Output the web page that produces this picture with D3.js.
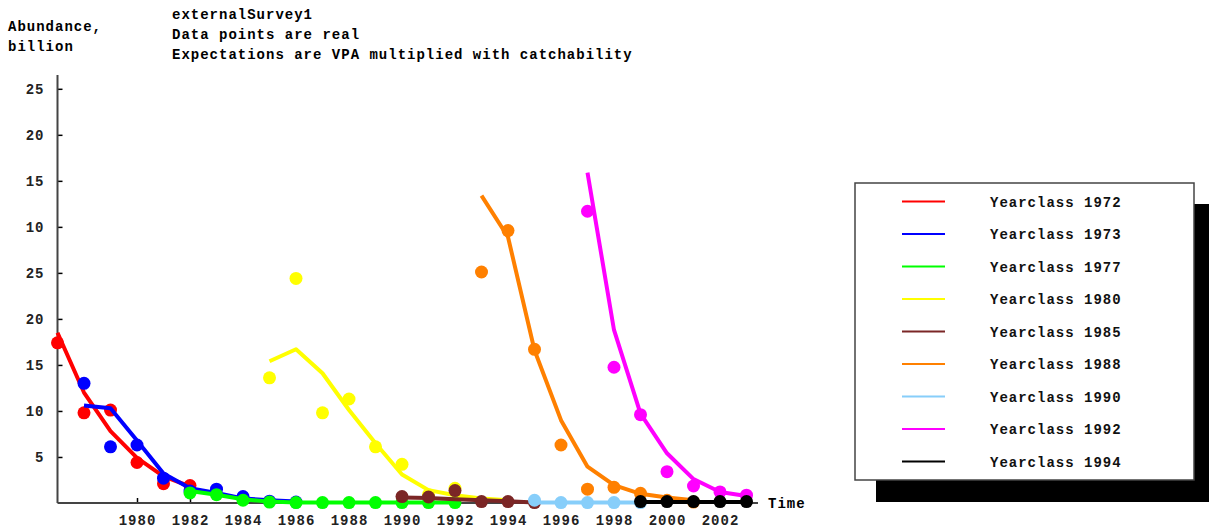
<!DOCTYPE html>
<html>
<head>
<meta charset="utf-8">
<script src="https://cdn.jsdelivr.net/npm/d3@7"></script>
<style>
  html, body { margin: 0; padding: 0; background: #fff; }
  svg text { font-family: "Liberation Mono", "DejaVu Sans Mono", monospace; }
</style>
</head>
<body>
<svg id="chart" width="1218" height="530"></svg>
<script>
// Survey abundance by year class (billion): observed points and modelled expectations.
const yearClasses = [1972, 1973, 1977, 1980, 1985, 1988, 1990, 1992, 1994];
const seriesColors = ["#ff0000", "#0000ff", "#00ff00", "#ffff00", "#7b2626", "#ff8000", "#87cefa", "#ff00ff", "#000000"];

// first survey year of each observed / expected run
const obsStart = [1977, 1978, 1982, 1985, 1990, 1993, 1995, 1997, 1999];
const expStart = [1977, 1978, 1982, 1985, 1990, 1993, 1995, 1997, 1999];

const observed = [
  [17.4, 9.8, 10.1, 4.4, 2.1, 1.9],
  [13.0, 6.1, 6.3, 2.7, 1.3, 1.5, 0.7, 0.2, 0.1],
  [1.1, 0.9, 0.3, 0.1, 0.05, 0.05, 0.05, 0.05, 0.05, 0.05, 0.05],
  [13.6, 24.4, 9.8, 11.3, 6.1, 4.2, 0.9, 1.6],
  [0.7, 0.65, 1.35, 0.15, 0.15, 0.05],
  [25.1, 29.6, 16.7, 6.3, 1.5, 1.7, 1.05, 0.3, 0.1],
  [0.3, 0.05, 0.05, 0.05, 0.05],
  [31.7, 14.75, 9.6, 3.4, 1.85, 1.2, 0.85],
  [0.15, 0.15, 0.15, 0.15, 0.15]
];

const expected = [
  [18.5, 12.0, 7.8, 4.9, 2.9, 1.8],
  [10.6, 10.3, 6.8, 3.2, 1.6, 1.1, 0.5, 0.3, 0.15],
  [1.3, 0.9, 0.4, 0.15, 0.05, 0.05, 0.05, 0.05, 0.05, 0.05, 0.05],
  [15.4, 16.7, 14.1, 10.1, 6.5, 3.1, 1.4, 0.85, 0.5, 0.3],
  [0.6, 0.55, 0.4, 0.3, 0.2, 0.05],
  [33.4, 28.9, 16.6, 9.0, 3.95, 1.95, 1.0, 0.6, 0.3],
  [0.05, 0.05, 0.05, 0.05, 0.05],
  [35.9, 18.8, 9.7, 5.4, 2.6, 1.2, 0.75],
  [0.1, 0.1, 0.1, 0.1, 0.1]
];

const yTickValues = [5, 10, 15, 20, 25, 30, 35, 40, 45];
const yTickLabels = ["5", "10", "15", "20", "25", "10", "15", "20", "25"];
const xTickValues = [1980, 1982, 1984, 1986, 1988, 1990, 1992, 1994, 1996, 1998, 2000, 2002];

const titleLines = ["externalSurvey1", "Data points are real", "Expectations are VPA multiplied with catchability"];
const yTitleLines = ["Abundance,", "billion"];
const xTitle = "Time";

const svg = d3.select("#chart");
const axisColor = "#444";
const fontSize = 14;

const x = d3.scaleLinear().domain([1977, 2003]).range([57.5, 746.5]);
const y = d3.scaleLinear().domain([0, 46.5]).range([503, 75]);

// titles
svg.append("g").selectAll("text").data(titleLines).join("text")
  .attr("x", 172).attr("y", (d, i) => 19 + i * 20)
  .attr("font-size", fontSize).attr("letter-spacing", 1).attr("font-weight", "bold")
  .attr("fill", "#000").text(d => d);
svg.append("g").selectAll("text").data(yTitleLines).join("text")
  .attr("x", 8).attr("y", (d, i) => 31 + i * 20)
  .attr("font-size", fontSize).attr("letter-spacing", 1).attr("font-weight", "bold")
  .attr("fill", "#000").text(d => d);

// axes
const yAxis = d3.axisRight(y).tickValues(yTickValues).tickSize(5)
  .tickFormat((d, i) => yTickLabels[i]);
const gy = svg.append("g").attr("transform", `translate(${x(1977)},0)`).call(yAxis);
gy.select(".domain").remove();
gy.selectAll(".tick line").attr("stroke", "#000").attr("stroke-width", 1.5);
gy.selectAll(".tick text").attr("x", -13).attr("text-anchor", "end")
  .attr("font-size", fontSize).attr("font-weight", "bold").attr("letter-spacing", 1)
  .attr("font-family", "Liberation Mono").attr("fill", "#222");

const xAxis = d3.axisTop(x).tickValues(xTickValues).tickSize(5).tickFormat(d3.format("d"));
const gx = svg.append("g").attr("transform", `translate(0,${y(0)})`).call(xAxis);
gx.select(".domain").remove();
gx.selectAll(".tick line").attr("stroke", "#000").attr("stroke-width", 1.5);
gx.selectAll(".tick text").attr("y", 22).attr("dy", 0)
  .attr("font-size", fontSize).attr("font-weight", "bold").attr("letter-spacing", 1)
  .attr("font-family", "Liberation Mono").attr("fill", "#222");

svg.append("line").attr("x1", x(1977)).attr("x2", x(1977)).attr("y1", 75).attr("y2", y(0))
  .attr("stroke", axisColor).attr("stroke-width", 2);
svg.append("line").attr("x1", x(1977)).attr("x2", 758).attr("y1", y(0)).attr("y2", y(0))
  .attr("stroke", axisColor).attr("stroke-width", 2);
svg.append("text").attr("x", 768).attr("y", y(0) + 5)
  .attr("font-size", fontSize).attr("font-weight", "bold").attr("letter-spacing", 1)
  .attr("fill", "#000").text(xTitle);

// series
const line = d3.line().x(d => x(d.year)).y(d => y(d.v)).curve(d3.curveLinear);
const plot = svg.append("g");
yearClasses.forEach((yc, s) => {
  const exp = expected[s].map((v, i) => ({ year: expStart[s] + i, v }));
  const obs = observed[s].map((v, i) => ({ year: obsStart[s] + i, v }));
  const g = plot.append("g").attr("class", "yc-" + yc);
  g.selectAll("circle").data(obs).join("circle")
    .attr("cx", d => x(d.year)).attr("cy", d => y(d.v)).attr("r", 6.5)
    .attr("fill", seriesColors[s]);
  g.append("path").datum(exp).attr("d", line)
    .attr("fill", "none").attr("stroke", seriesColors[s]).attr("stroke-width", 4)
    .attr("stroke-linejoin", "round");
});

// legend with drop shadow
const lg = svg.append("g");
lg.append("rect").attr("x", 876).attr("y", 204).attr("width", 333).attr("height", 298).attr("fill", "#000");
lg.append("rect").attr("x", 855).attr("y", 183).attr("width", 339).attr("height", 297)
  .attr("fill", "#fff").attr("stroke", "#444").attr("stroke-width", 1.5);
const legendRow = d3.scaleLinear().domain([0, yearClasses.length - 1]).range([201.5, 461.5]);
yearClasses.forEach((yc, s) => {
  lg.append("line").attr("x1", 902).attr("x2", 945)
    .attr("y1", legendRow(s)).attr("y2", legendRow(s))
    .attr("stroke", seriesColors[s]).attr("stroke-width", 2);
  lg.append("text").attr("x", 990).attr("y", legendRow(s) + 5)
    .attr("font-size", fontSize).attr("font-weight", "bold").attr("letter-spacing", 1)
    .attr("fill", "#111").text("Yearclass " + yc);
});
</script>
</body>
</html>
